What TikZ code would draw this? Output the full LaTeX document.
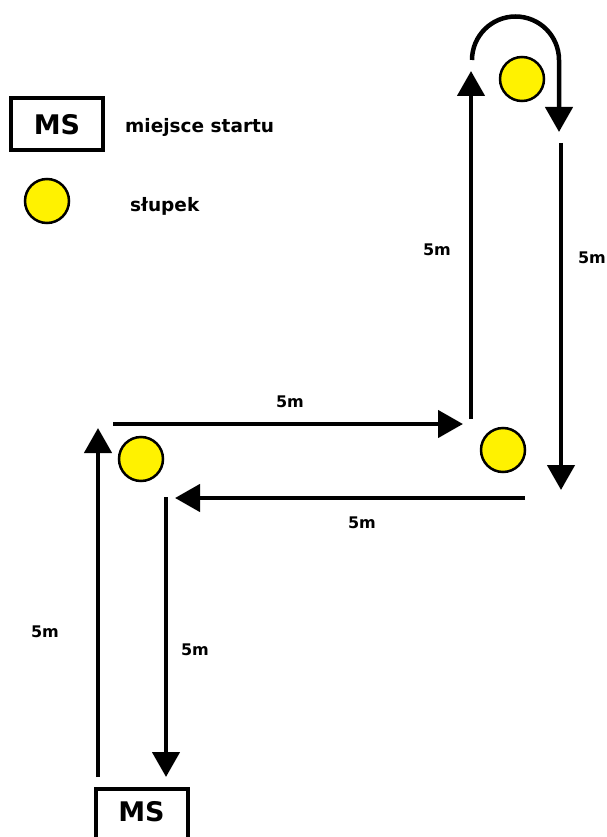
\documentclass[tikz,border=0pt]{standalone}
\usepackage{fontspec}
\setmainfont{DejaVu Sans}
\usetikzlibrary{arrows.meta}
\begin{document}
\begin{tikzpicture}[x=1pt,y=-1pt,
  arr/.style={line width=4.5pt,-{Triangle[length=25pt,width=27pt]}},
  post/.style={circle,draw=black,line width=2.5pt,fill=yellow,minimum size=44pt,inner sep=0pt},
  msbox/.style={draw=black,line width=4pt,minimum width=92pt,minimum height=52pt,inner sep=0pt,font=\bfseries\fontsize{27}{27}\selectfont},
  lab/.style={font=\bfseries\fontsize{16}{16}\selectfont,inner sep=0pt},
  leg/.style={font=\bfseries\fontsize{18.5}{18.5}\selectfont,inner sep=0pt,anchor=west}]
\useasboundingbox (0,0) rectangle (607,837);
\clip (0,0) rectangle (607,837);
% legend
\node[msbox] (lms) at (57,124.5) {MS};
\node[leg] (lmst) at (125,127) {miejsce startu};
\node[post] (lpost) at (47,201) {};
\node[leg] (lpostt) at (130,206) {słupek};
% posts
\node[post] (p1) at (141,459) {};
\node[post] (p2) at (503,450) {};
\node[post] (p3) at (522,79) {};
% start box
\node[msbox,minimum height=80pt] (ms) at (141.5,829) {};
\node[font=\bfseries\fontsize{27}{27}\selectfont,inner sep=0pt] (mst) at (141.5,812) {MS};
% coordinates
\coordinate (a1) at (98,777);
\coordinate (a2) at (98,428);
\coordinate (b1) at (113,424);
\coordinate (b2) at (463,424);
\coordinate (c1) at (471,419);
\coordinate (c2) at (471,71);
\coordinate (d1) at (472,60);
\coordinate (d3) at (559,132);
\coordinate (e1) at (561,143);
\coordinate (e2) at (561,490);
\coordinate (f1) at (525,498);
\coordinate (f2) at (175,498);
\coordinate (g1) at (166,497);
\coordinate (g2) at (166,777);
% arrows
\draw[arr] (a1) -- (a2);
\draw[arr] (b1) -- (b2);
\draw[arr] (c1) -- (c2);
\draw[arr] (d1) arc[start angle=180,end angle=360,radius=43.5] -- (d3);
\draw[arr] (e1) -- (e2);
\draw[arr] (f1) -- (f2);
\draw[arr] (g1) -- (g2);
% labels
\node[lab] (l1) at (290,402) {5m};
\node[lab] (l2) at (437,250) {5m};
\node[lab] (l3) at (592,258) {5m};
\node[lab] (l4) at (362,523) {5m};
\node[lab] (l5) at (45,632) {5m};
\node[lab] (l6) at (195,650) {5m};
\end{tikzpicture}
\end{document}
